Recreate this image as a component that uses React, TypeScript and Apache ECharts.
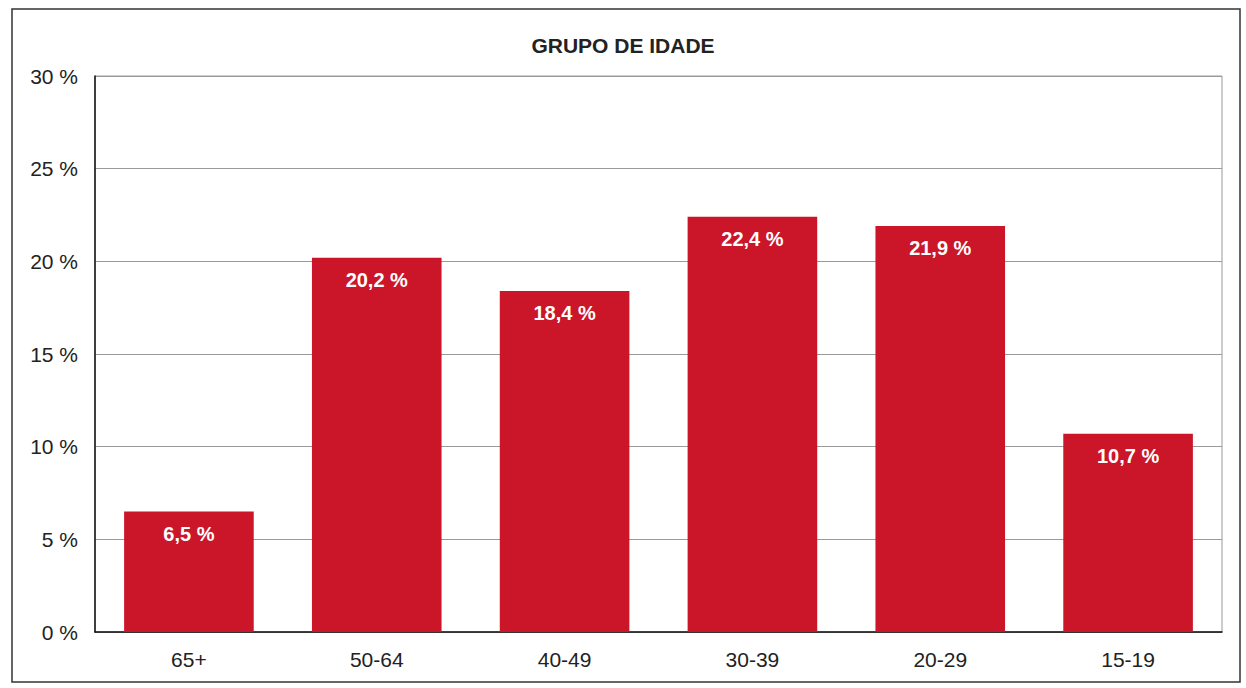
import React, { useEffect, useRef } from "react";
import * as echarts from "echarts";

const categories = ["65+", "50-64", "40-49", "30-39", "20-29", "15-19"];
const values = [6.5, 20.2, 18.4, 22.4, 21.9, 10.7];
const title = "GRUPO DE IDADE";

export default function App() {
  const ref = useRef<HTMLDivElement>(null);
  useEffect(() => {
    const chart = echarts.init(ref.current!, null, { renderer: "svg" });
    chart.setOption({
      animation: false,
      backgroundColor: "#ffffff",
      title: {
        text: title,
        left: "center",
        top: 30,
        textStyle: { fontFamily: "Liberation Sans", fontWeight: "bold", fontSize: 21, color: "#222" },
      },
      graphic: [
        {
          type: "rect",
          shape: { x: 12, y: 9, width: 1228, height: 673 },
          style: { fill: "none", stroke: "#333", lineWidth: 1.5 },
          silent: true,
        },
      ],
      grid: {
        left: 95,
        right: 24,
        top: 76,
        bottom: 56,
        show: true,
        borderColor: "#9a9a9a",
        borderWidth: 1,
      },
      xAxis: {
        type: "category",
        data: categories,
        axisLine: { show: true, lineStyle: { color: "#111", width: 1.5 } },
        axisTick: { show: false },
        axisLabel: { fontFamily: "Liberation Sans", fontSize: 21, color: "#222", margin: 17 },
      },
      yAxis: {
        type: "value",
        min: 0,
        max: 30,
        interval: 5,
        axisLine: { show: true, lineStyle: { color: "#111", width: 1.5 } },
        axisTick: { show: false },
        splitLine: { show: true, lineStyle: { color: "#9a9a9a", width: 1 } },
        axisLabel: {
          fontFamily: "Liberation Sans",
          fontSize: 21,
          color: "#222",
          margin: 17,
          formatter: (v: number) => `${v} %`,
        },
      },
      series: [
        {
          type: "bar",
          data: values,
          barWidth: "69%",
          itemStyle: { color: "#cb1529" },
          label: {
            show: true,
            position: "insideTop",
            distance: 12,
            fontFamily: "Liberation Sans",
            fontWeight: "bold",
            fontSize: 20,
            color: "#ffffff",
            formatter: (p: any) => `${String(p.value).replace(".", ",")} %`,
          },
        },
      ],
    });
    return () => chart.dispose();
  }, []);
  return (
    <div
      ref={ref}
      style={{ position: "absolute", left: 0, top: 0, width: 1246, height: 688 }}
    />
  );
}
